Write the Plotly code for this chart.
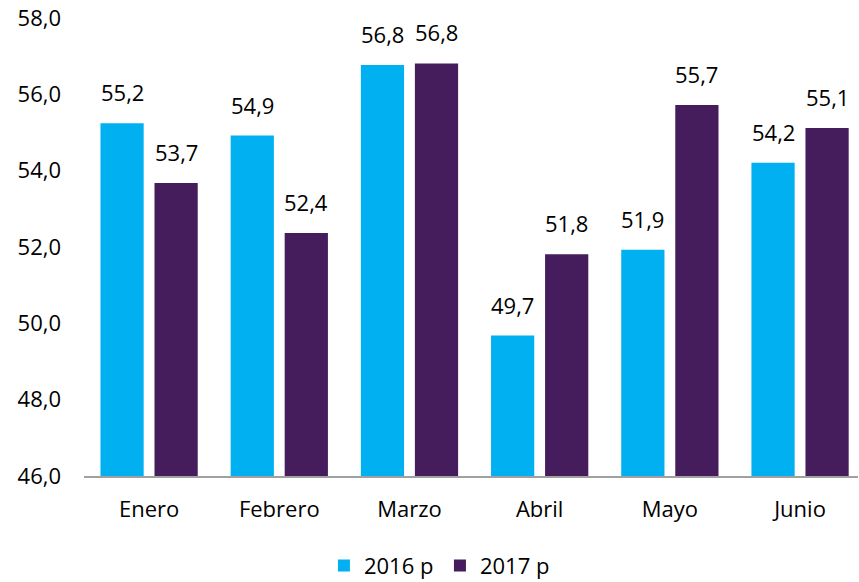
import plotly.graph_objects as go

# ── Datos ─────────────────────────────────────────────────────────────────────
meses = ["Enero", "Febrero", "Marzo", "Abril", "Mayo", "Junio"]
v2016 = [55.24, 54.92, 56.77, 49.68, 51.93, 54.21]
v2017 = [53.68, 52.37, 56.81, 51.81, 55.72, 55.12]
serie_nombres = ["2016 p", "2017 p"]
y_ticks = [46, 48, 50, 52, 54, 56, 58]

C_AZUL = "#00B0F0"
C_MORADO = "#451C5C"
FONT = "Open Sans"

fig = go.Figure()
for nombre, vals, color in [(serie_nombres[0], v2016, C_AZUL),
                            (serie_nombres[1], v2017, C_MORADO)]:
    fig.add_trace(go.Bar(
        x=meses, y=vals, name=nombre,
        marker=dict(color=color, line_width=0),
    ))

# etiquetas de datos sobre cada barra
for vals, dx in [(v2016, -27), (v2017, 27)]:
    for m, v in zip(meses, vals):
        fig.add_annotation(
            x=m, y=v, text=f"{v:.1f}".replace(".", ","),
            showarrow=False, xshift=dx, yshift=14, yanchor="bottom",
            font=dict(size=22, color="#000", family=FONT),
        )

fig.update_layout(
    width=859, height=582,
    paper_bgcolor="#fff", plot_bgcolor="#fff",
    font=dict(family=FONT, size=22, color="#000"),
    margin=dict(l=84, r=1, t=18, b=106, autoexpand=False),
    barmode="group", bargap=0.17, bargroupgap=0.2,
    separators=",.",
    showlegend=True,
    legend=dict(orientation="h", x=0.31, xanchor="left", y=-0.196, yanchor="middle",
                font=dict(size=22, family=FONT), entrywidth=71,
                bgcolor="rgba(0,0,0,0)"),
)
fig.update_xaxes(
    range=[-0.5, 5.445], showgrid=False, zeroline=False,
    showline=True, linecolor="#A0A0A0", linewidth=2,
    ticks="", ticklabelstandoff=13,
)
fig.update_yaxes(
    range=[46, 58], tickvals=y_ticks, tickformat=".1f",
    showgrid=False, zeroline=False, showline=False,
    ticks="", ticklabelstandoff=22,
)

fig.write_html("out.html", config={"displayModeBar": False},
               post_script="document.body.style.margin='0';")
